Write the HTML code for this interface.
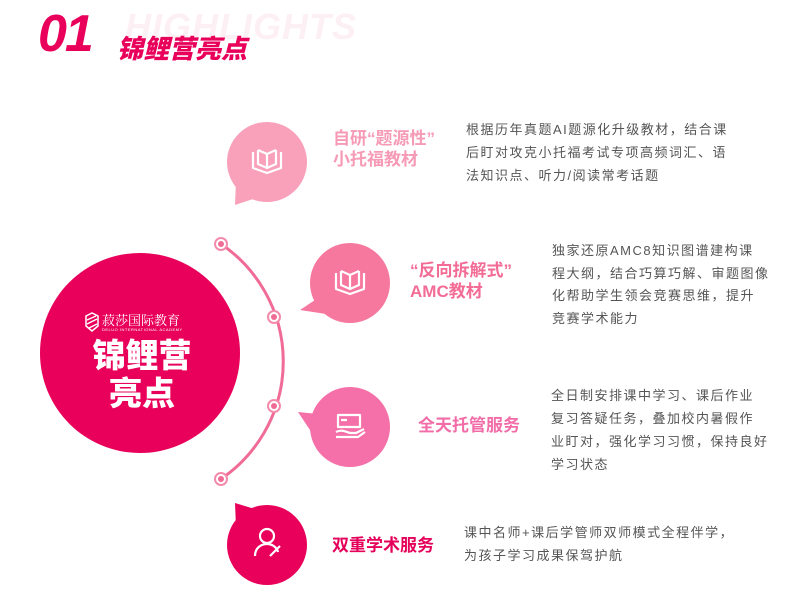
<!DOCTYPE html>
<html><head><meta charset="utf-8"><style>
body{margin:0;width:800px;height:593px;background:#fff;position:relative;overflow:hidden;font-family:"Liberation Sans","Noto Sans CJK SC",sans-serif}
.a{position:absolute;white-space:nowrap}
.d{font-size:13px;color:#555;letter-spacing:1.5px;line-height:23px}
.t{font-size:17px;font-weight:bold;line-height:21px}
</style></head><body>
<div class="a" style="left:125px;top:6px;font-size:36px;font-weight:900;font-style:italic;color:#fdf0f4;letter-spacing:1px">HIGHLIGHTS</div>
<div class="a" style="left:38px;top:4px;font-size:52px;font-weight:900;font-style:italic;color:#e8005a;letter-spacing:-2px">01</div>
<div class="a" style="left:117px;top:29px;font-size:26px;font-weight:900;color:#e8005a;font-style:italic">锦鲤营亮点</div>

<svg class="a" style="left:0;top:0" width="800" height="593">
<path d="M221 244 A142 142 0 0 1 221 479" fill="none" stroke="#f06b96" stroke-width="3"/>
<g fill="#fff" stroke="#f48aab" stroke-width="2">
<circle cx="221" cy="244" r="6"/><circle cx="274" cy="317" r="6"/><circle cx="274" cy="406" r="6"/><circle cx="221" cy="479" r="6"/></g>
<g fill="#f06b96"><circle cx="221" cy="244" r="3"/><circle cx="274" cy="317" r="3"/><circle cx="274" cy="406" r="3"/><circle cx="221" cy="479" r="3"/></g>
<circle cx="140" cy="353" r="100" fill="#e8005a"/>
<circle cx="267" cy="162" r="40" fill="#f9a0bb"/><path d="M236 180 L235 205 L262 196Z" fill="#f9a0bb"/>
<circle cx="350" cy="283" r="40" fill="#f7789f"/><path d="M318 298 L300 310 L326 314Z" fill="#f7789f"/>
<circle cx="350" cy="427" r="40" fill="#f56fa8"/><path d="M318 414 L298 412 L314 436Z" fill="#f56fa8"/>
<circle cx="267" cy="545" r="40" fill="#e8005a"/><path d="M236 527 L235 503 L258 510Z" fill="#e8005a"/>
<g fill="none" stroke="#fff" stroke-width="2.2" stroke-linejoin="round">
<path d="M253 152 v16 l14 5 l14 -5 v-16 M258 150 v14 l9 4 l9 -4 v-14 M267 154 v14 M258 150 l9 4 l9 -4"/>
<path d="M336 273 v16 l14 5 l14 -5 v-16 M341 271 v14 l9 4 l9 -4 v-14 M350 275 v14 M341 271 l9 4 l9 -4"/>
<path d="M338 415 h22 v12 h-22z M341 420 h6 M336 432 c6 -3 10 0 14 1 h6 l8 -4 M336 437 h22 l7 -5"/>
<circle cx="267" cy="536" r="7"/><path d="M255 556 c0 -8 6 -12 12 -12 c6 0 10 4 11 8 M270 556 l10 -10"/>
</g>
<g fill="none" stroke="#fff" stroke-width="1.5"><path d="M86 316 l6 -3 l6 3 v10 l-6 5 l-6 -5z"/><path d="M87 320 l9 -4 M87 324 l10 -5 M89 328 l8 -4"/></g>
</svg>
<div class="a" style="left:102px;top:310px;font-size:13px;color:#fff;font-family:'Noto Serif CJK SC',serif">菽莎国际教育</div>
<div class="a" style="left:102px;top:327px;font-size:4px;color:#fff;letter-spacing:.5px">DELUO INTERNATIONAL ACADEMY</div>
<div class="a" style="left:84px;top:337px;font-size:33px;font-weight:900;color:#fff;line-height:38px;text-align:center;width:116px">锦鲤营<br>亮点</div>

<div class="a t" style="left:333px;top:128px;color:#f69ab6">自研“题源性”<br>小托福教材</div>
<div class="a t" style="left:410px;top:260px;color:#f26c96">“反向拆解式”<br>AMC教材</div>
<div class="a t" style="left:418px;top:415px;color:#f26ca8">全天托管服务</div>
<div class="a t" style="left:332px;top:535px;color:#e5005a">双重学术服务</div>

<div class="a d" style="left:466px;top:118px">根据历年真题AI题源化升级教材，结合课<br>后盯对攻克小托福考试专项高频词汇、语<br>法知识点、听力/阅读常考话题</div>
<div class="a d" style="left:552px;top:240px;line-height:22.5px">独家还原AMC8知识图谱建构课<br>程大纲，结合巧算巧解、审题图像<br>化帮助学生领会竞赛思维，提升<br>竞赛学术能力</div>
<div class="a d" style="left:551px;top:384px">全日制安排课中学习、课后作业<br>复习答疑任务，叠加校内暑假作<br>业盯对，强化学习习惯，保持良好<br>学习状态</div>
<div class="a d" style="left:464px;top:521px">课中名师+课后学管师双师模式全程伴学，<br>为孩子学习成果保驾护航</div>
</body></html>
